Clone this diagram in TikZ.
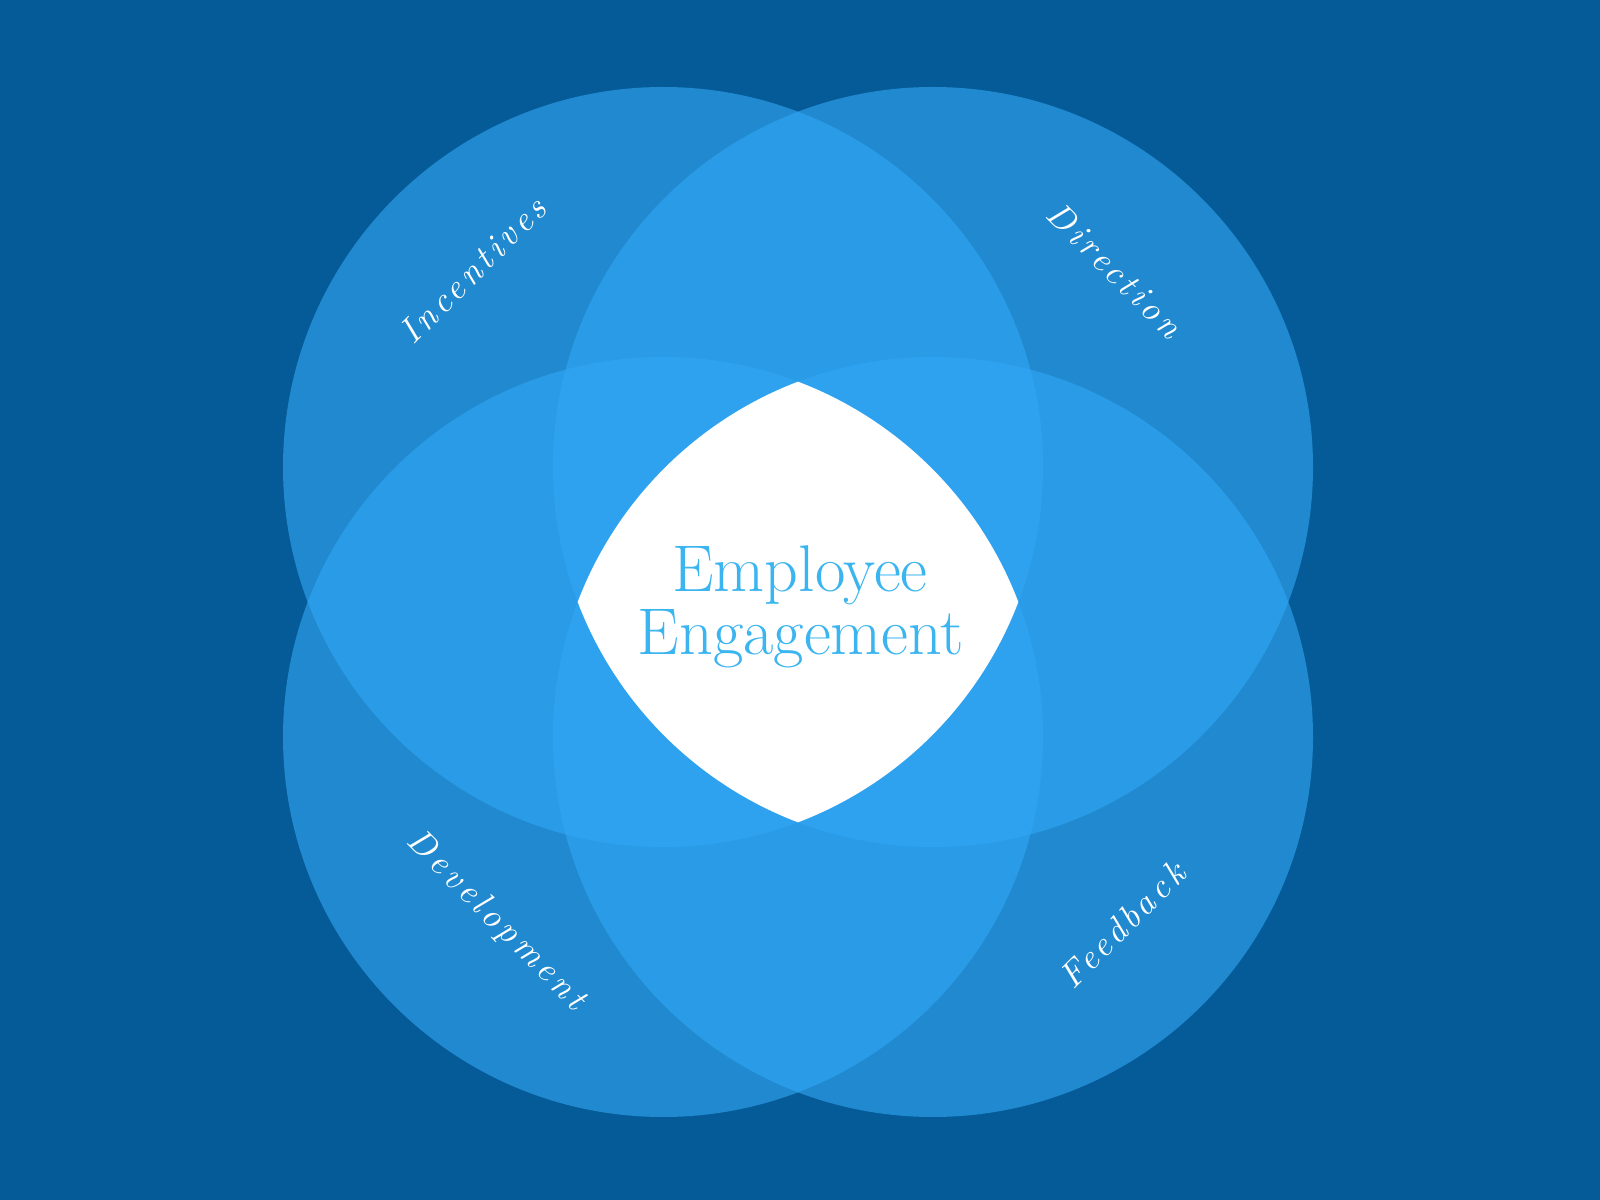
\documentclass[tikz,border=0pt]{standalone}
\usepackage{fontspec}
\usepackage{tikz}
\newfontfamily\petalfont[LetterSpace=12]{lmroman10-italic.otf}
\definecolor{bgblue}{RGB}{5,91,151}
\definecolor{petal}{RGB}{50,168,246}
\definecolor{coretext}{RGB}{59,181,240}
\tikzstyle{petal}=[fill=petal, fill opacity=0.6]
\tikzstyle{petal label}=[text=white, inner sep=0pt, font={\petalfont\fontsize{25}{30}\selectfont}]
\tikzstyle{core}=[text=coretext, anchor=base, inner sep=0pt, font={\fontsize{47}{54}\selectfont}]

\begin{document}
\begin{tikzpicture}[x=0.025cm, y=-0.025cm]
    \useasboundingbox (0,0) rectangle (1600,1200);
    \fill[bgblue] (0,0) rectangle (1600,1200);
    % the four circles
    \foreach \cx/\cy in {663/467, 933/467, 663/737, 933/737} {
      \fill[petal] (\cx,\cy) circle [radius=380];
    }
    % common part of all four
    \begin{scope}
      \clip (663,467) circle [radius=380];
      \clip (933,467) circle [radius=380];
      \clip (663,737) circle [radius=380];
      \fill[white] (933,737) circle [radius=380];
    \end{scope}
    \node[core] (emp) at (800,592) {Employee};
    \node[core] (eng) at (801,655) {Engagement};
    \node[petal label, rotate=45] (incentives) at (473,270) {Incentives};
    \node[petal label, rotate=-45] (direction) at (1115,270) {Direction};
    \node[petal label, rotate=-45] (development) at (496,921) {Development};
    \node[petal label, rotate=45] (feedback) at (1122,925) {Feedback};
\end{tikzpicture}
\end{document}
